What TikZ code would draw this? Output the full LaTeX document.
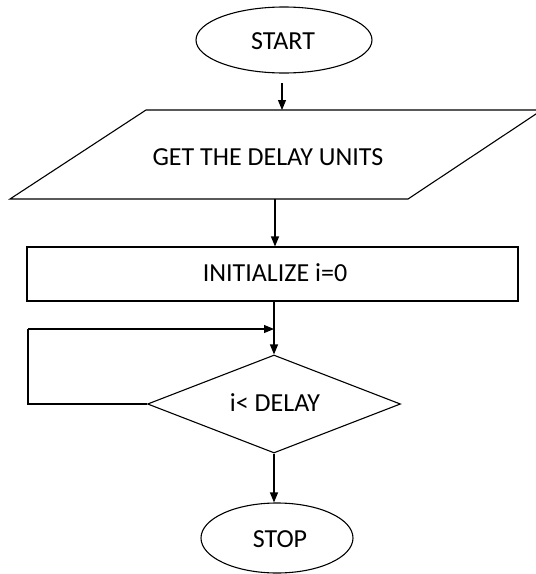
\documentclass[tikz,border=0pt]{standalone}
\usepackage{fontspec}
\setmainfont{Carlito}
\usetikzlibrary{shapes.geometric,arrows.meta}

\tikzset{
  flow/.style={line width=1.1pt},
  term/.style={flow, draw, ellipse, inner sep=0pt},
  procbox/.style={flow, draw, rectangle, inner sep=0pt},
  decide/.style={flow, draw, diamond, inner sep=0pt, aspect=2.6},
  label/.style={font=\fontsize{26}{30}\selectfont, inner sep=0pt},
  arr/.style={flow, -{Triangle[length=10pt,width=8pt]}},
}

\begin{document}
\begin{tikzpicture}[x=1pt, y=-1pt]
  \useasboundingbox (0,0) rectangle (536,574);

  % terminal: start
  \node[term, minimum width=176pt, minimum height=66pt] (start) at (284,40) {};
  \node[label] (starttxt) at (283,41) {START};

  % input: parallelogram
  \coordinate (gtl) at (146,110);
  \coordinate (gtr) at (542,110);
  \coordinate (gbr) at (408,199);
  \coordinate (gbl) at (10,199);
  \draw[flow] (gtl) -- (gtr) -- (gbr) -- (gbl) -- cycle;
  \node[label] (get) at (268,157) {GET THE DELAY UNITS};
  \coordinate (gtop) at (282,110);
  \coordinate (gbot) at (275,199);

  % process: initialise counter
  \node[procbox, minimum width=491pt, minimum height=54pt] (init) at (272.5,274) {};
  \node[label] (inittxt) at (275,273) {INITIALIZE i=0};

  % decision
  \node[decide, minimum width=253pt, minimum height=98pt] (cond) at (274,404) {};
  \node[label] (condtxt) at (275,403) {i< DELAY};

  % terminal: stop
  \node[term, minimum width=152pt, minimum height=70pt] (stop) at (277,538) {};
  \node[label] (stoptxt) at (280,539) {STOP};

  % loop corner points
  \coordinate (loopin) at (cond.north |- 0,329);
  \coordinate (loopdl) at (28,404);
  \coordinate (loopul) at (28,329);

  % connectors
  \draw[arr] (282,83) -- (gtop);
  \draw[arr] (gbot) -- (gbot |- init.north);
  \draw[flow] (init.south -| loopin) -- (loopin);
  \draw[arr] (loopin) -- (cond.north);
  \draw[flow] (cond.west) -- (loopdl) -- (loopul);
  \draw[arr] (loopul) -- (loopin);
  \draw[arr] (cond.south) -- (cond.south |- stop.north);
\end{tikzpicture}
\end{document}
